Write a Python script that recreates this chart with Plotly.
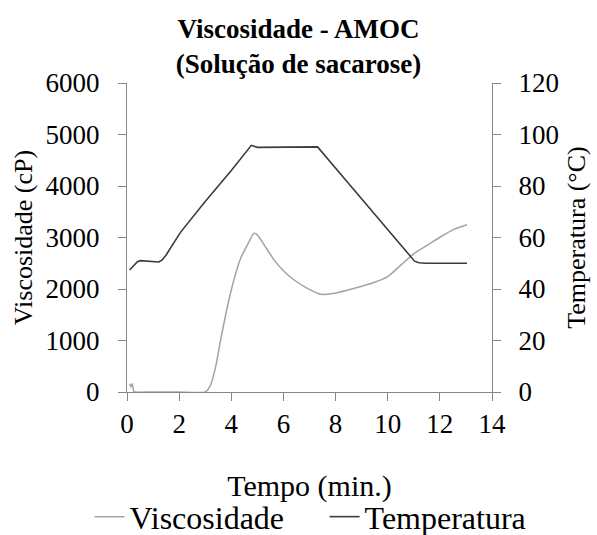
import plotly.graph_objects as go

# Viscosity series (cP) vs time (min)
visc_time = [0.1, 0.15, 0.2, 0.26, 0.3, 1.0, 2.0, 3.0, 3.2, 3.4, 3.59, 3.85, 4.1, 4.36, 4.62, 4.87, 5.0,
             5.26, 5.64, 6.03, 6.41, 6.92, 7.44, 7.95, 8.72, 9.49, 10.0, 10.51, 11.03, 11.54, 12.05, 12.56, 13.04]
visc_vals = [160, 100, 160, 10, 0, 0, 0, 0, 130, 487, 1006, 1656, 2175, 2597, 2857, 3084, 3052,
             2857, 2565, 2338, 2175, 2013, 1896, 1916, 2013, 2130, 2240, 2468, 2695, 2857, 3019, 3162, 3247]

# Temperature series (°C) vs time (min)
temp_time = [0.1, 0.2, 0.3, 0.4, 0.51, 0.7, 0.9, 1.1, 1.22, 1.35, 1.5, 2.05, 3.0, 4.0, 4.77, 5.0, 6.0, 7.31,
             8.5, 10.0, 11.03, 11.2, 11.47, 13.04]
temp_vals = [47.4, 48.6, 49.8, 50.6, 51.0, 50.9, 50.6, 50.5, 50.5, 51.3, 53.2, 62.0, 74.0, 86.0, 95.8, 95.0,
             95.1, 95.2, 81.0, 63.0, 50.8, 50.2, 50.0, 50.0]

title_text = "<b>Viscosidade - AMOC<br>(Solução de sacarose)</b>"
x_title = "Tempo (min.)"
y1_title = "Viscosidade (cP)"
y2_title = "Temperatura (°C)"

FONT = "Liberation Serif, Times New Roman, serif"
AX = "#868686"

fig = go.Figure()
fig.add_trace(go.Scatter(x=visc_time, y=visc_vals, name="Viscosidade", mode="lines",
                         line=dict(color="#a3a3a3", width=1.5, shape="spline", smoothing=0.6)))
fig.add_trace(go.Scatter(x=temp_time, y=temp_vals, name="Temperatura", mode="lines", yaxis="y2",
                         line=dict(color="#3c3c3c", width=1.6)))

fig.update_layout(
    width=597, height=535,
    margin=dict(l=127, r=105, t=83, b=143, autoexpand=False),
    paper_bgcolor="white", plot_bgcolor="white",
    font=dict(family=FONT, size=27, color="black"),
    title=dict(text=title_text, x=0.5, xanchor="center", y=0.929, yanchor="top",
               font=dict(family=FONT, size=27, color="black")),
    xaxis=dict(range=[0, 14], tickvals=[0, 2, 4, 6, 8, 10, 12, 14], showgrid=False, zeroline=False,
               showline=True, linecolor=AX, linewidth=1, ticks="outside", ticklen=8, tickcolor=AX,
               automargin=True, title=dict(text=x_title, standoff=36, font=dict(size=30))),
    yaxis=dict(range=[0, 6000], tickvals=[0, 1000, 2000, 3000, 4000, 5000, 6000], showgrid=False,
               zeroline=False, showline=True, linecolor=AX, linewidth=1, ticks="outside", ticklen=8,
               ticklabelstandoff=13, automargin=False, tickcolor=AX,
               title=dict(text=y1_title, standoff=5, font=dict(size=26))),
    yaxis2=dict(range=[0, 120], tickvals=[0, 20, 40, 60, 80, 100, 120], overlaying="y", side="right",
                showgrid=False, zeroline=False, showline=True, linecolor=AX, linewidth=1, ticks="outside",
                ticklabelstandoff=12, automargin=False, ticklen=8, tickcolor=AX,
                title=dict(text=y2_title, standoff=8, font=dict(size=26))),
    legend=dict(orientation="h", x=-0.1025, xanchor="left", y=-0.404, yanchor="middle",
                font=dict(size=32), bgcolor="rgba(0,0,0,0)", entrywidth=190, entrywidthmode="pixels"),
    showlegend=True,
)

fig.write_html("out.html")
